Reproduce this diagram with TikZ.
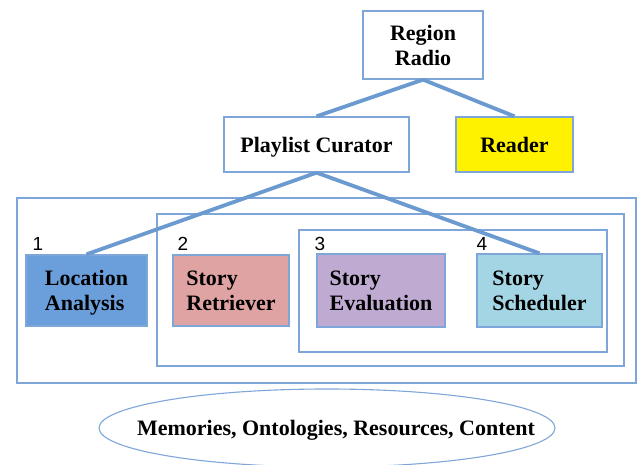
\documentclass[tikz,border=0pt]{standalone}
\usepackage{fontspec}
\setmainfont{Liberation Serif}
\newfontfamily\digitfont{Liberation Sans}
\usetikzlibrary{shapes.geometric}
\definecolor{edgeblue}{HTML}{7EA6D8}
\definecolor{linkblue}{HTML}{6B9AD0}
\definecolor{locblue}{HTML}{6A9FDC}
\definecolor{retpink}{HTML}{E0A3A3}
\definecolor{evalpurple}{HTML}{BFABD2}
\definecolor{schedcyan}{HTML}{A4D5E4}
\tikzset{
  lbl/.style={font=\fontsize{22}{25}\selectfont\bfseries, align=center, inner sep=0pt},
  boxnode/.style={draw=edgeblue, line width=1.3pt, rectangle, inner sep=0pt, text depth=-4pt,
    font=\fontsize{22}{25}\selectfont\bfseries},
  group/.style={draw=edgeblue, line width=1.3pt},
  link/.style={draw=linkblue, line width=3.8pt},
  num/.style={font=\digitfont\fontsize{19}{22}\selectfont, inner sep=0pt}
}
\begin{document}
\begin{tikzpicture}[x=1pt,y=-1pt]
\useasboundingbox (0,0) rectangle (638,465);
% group frames
\draw[group] (17,198) rectangle (636,383);
\draw[group] (157,214) rectangle (624,366);
\draw[group] (299,230) rectangle (607,352);
% top nodes
\node[boxnode, text depth=-2pt, minimum width=120pt, minimum height=68pt, align=center] (rr) at (423,45) {Region\\Radio};
\node[boxnode, minimum width=185pt, minimum height=55pt] (pc) at (316.5,144.5) {Playlist Curator};
\node[boxnode, fill=yellow, minimum width=117pt, minimum height=55pt] (rd) at (514.5,144.5) {Reader};
% component nodes
\node[boxnode, fill=locblue, minimum width=121pt, minimum height=71pt, align=left] (la) at (86.5,290.5) {Location\\Analysis};
\node[boxnode, fill=retpink, minimum width=116pt, minimum height=71pt, align=left] (sr) at (231,290.5) {Story\\Retriever};
\node[boxnode, fill=evalpurple, minimum width=128pt, minimum height=73pt, align=left] (se) at (381,290.5) {Story\\Evaluation};
\node[boxnode, fill=schedcyan, minimum width=125pt, minimum height=73pt, align=left] (ss) at (539.5,290.5) {Story\\Scheduler};
% numbers
\node[num] (n1) at (38,244) {1};
\node[num] (n2) at (183,244) {2};
\node[num] (n3) at (320,244) {3};
\node[num] (n4) at (482,244) {4};
% connectors
\draw[link] (rr.south) -- (pc.north);
\draw[link] (rr.south) -- (rd.north);
\draw[link] (pc.south) -- (la.north);
\draw[link] (pc.south) -- (ss.north);
% ellipse
\node[ellipse, draw=edgeblue, line width=1.1pt, minimum width=456pt, minimum height=78pt, inner sep=0pt] (db) at (327,428) {};
\node[lbl] (dbt) at (336,430) {Memories, Ontologies, Resources, Content};
\end{tikzpicture}
\end{document}
